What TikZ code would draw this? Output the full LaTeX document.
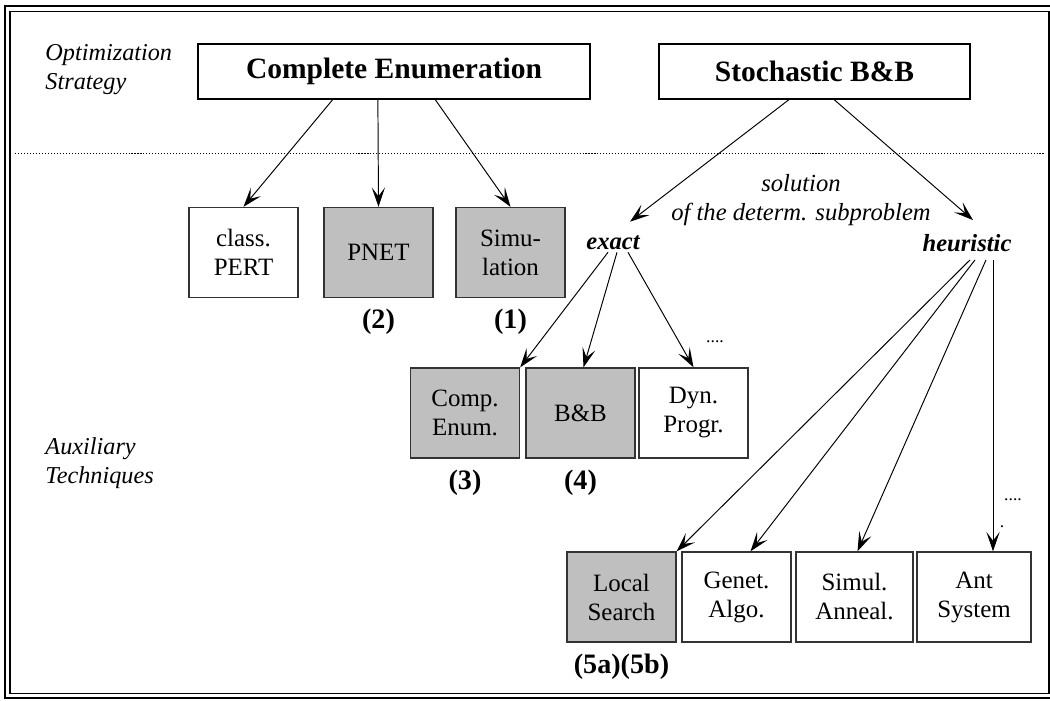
\documentclass[tikz,border=0pt]{standalone}
\usepackage{fontspec}
\setmainfont{Liberation Serif}
\usetikzlibrary{arrows.meta,positioning,calc}

\begin{document}
\begin{tikzpicture}[x=0.02cm, y=-0.02cm, ->, >={Stealth[length=11pt,width=7.5pt,inset=5pt]}, line width=0.55pt,
  box/.style={draw=black!80, line width=0.8pt, minimum width=2.18cm, minimum height=1.8cm, align=center, inner sep=0pt, font=\fontsize{14.2}{16.5}\selectfont},
  grey/.style={box, fill=black!25},
  top/.style={draw, line width=0.8pt, minimum height=1.1cm, inner sep=0pt, font=\bfseries\fontsize{16.8}{19}\selectfont},
  num/.style={inner sep=0pt, font=\bfseries\fontsize{16}{18}\selectfont},
  side/.style={anchor=west, align=left, inner sep=0pt, font=\itshape\fontsize{13.8}{16.5}\selectfont},
  kind/.style={inner sep=1pt, font=\bfseries\itshape\fontsize{14}{16.5}\selectfont}]
\path[use as bounding box] (0,0) rectangle (1050,700);
\draw[-, line width=1.2pt] (5,6) rectangle (1056,698);
\draw[-, line width=1pt] (10,11.5) rectangle (1049,693.5);
\draw[-, line width=0.5pt, dash pattern=on 0.6pt off 1.1pt] (15,153) -- (1045,153);
% levels
\node[side] (OS) at (45,70) {Optimization\\Strategy};
\node[side] (AT) at (45,463) {Auxiliary\\Techniques};
% strategies
\node[top, minimum width=7.84cm] (CE) at (394,71.5) {Complete Enumeration};
\node[top, minimum width=6.22cm] (SBB) at (814.5,71.5) {Stochastic B\&B};
\node[box] (PERT) at (243.5,252.5) {class.\\PERT};
\node[grey] (PNET) at (378.5,252.5) {PNET};
\node[grey] (SIM) at (510.5,252.5) {Simu-\\lation};
\node[num, below=6pt of PNET] (N2) {(2)};
\node[num, below=6pt of SIM] (N1) {(1)};
% subproblem
\node[inner sep=0pt, align=center, font=\itshape\fontsize{14}{16.5}\selectfont] (SOL) at (801,200) {solution\\of the determ. subproblem};
\node[kind] (EX) at (613,243) {exact};
\node[kind] (HE) at (967,243) {heuristic};
\node[grey] (CEN) at (465,413) {Comp.\\Enum.};
\node[grey] (BB) at (580.5,413) {B\&B};
\node[box] (DP) at (693.5,413) {Dyn.\\Progr.};
\node[num, below=6pt of CEN] (N3) {(3)};
\node[num, below=6pt of BB] (N4) {(4)};
\node[inner sep=0pt] (D1) at (715,342) {....};
\node[grey] (LS) at (621.5,597) {Local\\Search};
\node[box] (GA) at (736.5,597) {Genet.\\Algo.};
\node[box, minimum width=2.34cm] (SA) at (854.5,597) {Simul.\\Anneal.};
\node[box, minimum width=2.28cm] (AS) at (974,597) {Ant\\System};
\node[num, below=6pt of LS] (N5) {(5a)(5b)};
\node[inner sep=0pt] (D2) at (1013,500) {....};
\node[inner sep=0pt] (D3) at (1002,527) {.};
% arrows
\path ($(CE.south west)!0.344!(CE.south east)$) edge (PERT.north);
\path ($(CE.south west)!0.459!(CE.south east)$) edge (PNET.north);
\path ($(CE.south west)!0.605!(CE.south east)$) edge (SIM.north);
\path ($(SBB.south west)!0.418!(SBB.south east)$) edge ($(EX.north)+(17,-12)$);
\path ($(SBB.south west)!0.563!(SBB.south east)$) edge ($(HE.north)+(6,-12)$);
\path ($(EX.south)+(-5,0)$) edge (CEN.north east);
\path ($(EX.south)+(4,0)$) edge ($(BB.north)+(3,0)$);
\path ($(EX.south)+(15,0)$) edge (DP.north);
\path ($(HE.south)+(3,6)$) edge (LS.north east);
\path ($(HE.south)+(8,6)$) edge ($(GA.north)+(14,0)$);
\path ($(HE.south)+(19,6)$) edge ($(SA.north)+(3,0)$);
\path ($(HE.south)+(26,6)$) edge ($(AS.north)+(19,0)$);
\end{tikzpicture}
\end{document}
